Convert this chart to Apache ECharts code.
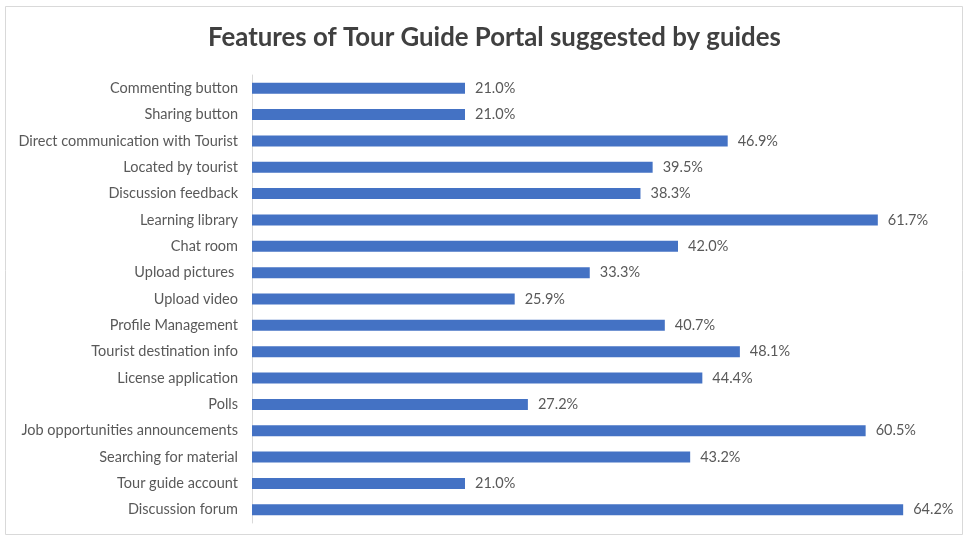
<!DOCTYPE html>
<html>
<head>
<meta charset="utf-8">
<style>html,body{margin:0;padding:0;background:#fff;}#c{width:968px;height:538px;}</style>
<script src="https://cdn.jsdelivr.net/npm/echarts@6/dist/echarts.min.js"></script>
</head>
<body>
<div id="c"></div>
<script>
const titleText = 'Features of Tour Guide Portal suggested by guides';
const categories = [
  'Commenting button', 'Sharing button', 'Direct communication with Tourist', 'Located by tourist',
  'Discussion feedback', 'Learning library', 'Chat room', 'Upload pictures ', 'Upload video',
  'Profile Management', 'Tourist destination info', 'License application', 'Polls',
  'Job opportunities announcements', 'Searching for material', 'Tour guide account', 'Discussion forum'
];
const values = [21.0, 21.0, 46.9, 39.5, 38.3, 61.7, 42.0, 33.3, 25.9, 40.7, 48.1, 44.4, 27.2, 60.5, 43.2, 21.0, 64.2];

const chart = echarts.init(document.getElementById('c'), null, {renderer: 'canvas'});
chart.setOption({
  animation: false,
  backgroundColor: '#fff',
  graphic: [{
    type: 'rect', shape: {x: 5.5, y: 6.5, width: 957, height: 528},
    style: {fill: 'none', stroke: '#d9d9d9', lineWidth: 1}, silent: true
  }],
  title: {
    text: titleText, left: 203, top: 20,
    textStyle: {fontFamily: 'Lato', fontSize: 25.8, fontWeight: 'bold', color: '#404040'}
  },
  grid: {left: 252, right: 6, top: 75, bottom: 15, containLabel: false},
  xAxis: {
    type: 'value', min: 0, max: 70, show: false
  },
  yAxis: {
    type: 'category', data: categories, inverse: true,
    axisLine: {show: true, lineStyle: {color: '#d9d9d9', width: 1}},
    axisTick: {show: false},
    axisLabel: {fontFamily: 'Lato', fontSize: 14.5, color: '#595959', margin: 14}
  },
  series: [{
    type: 'bar', data: values, barWidth: 11,
    itemStyle: {color: '#4472C4'},
    label: {
      show: true, position: 'right', distance: 10,
      formatter: p => p.value.toFixed(1) + '%',
      fontFamily: 'Lato', fontSize: 14.5, color: '#595959'
    }
  }]
});
</script>
</body>
</html>
